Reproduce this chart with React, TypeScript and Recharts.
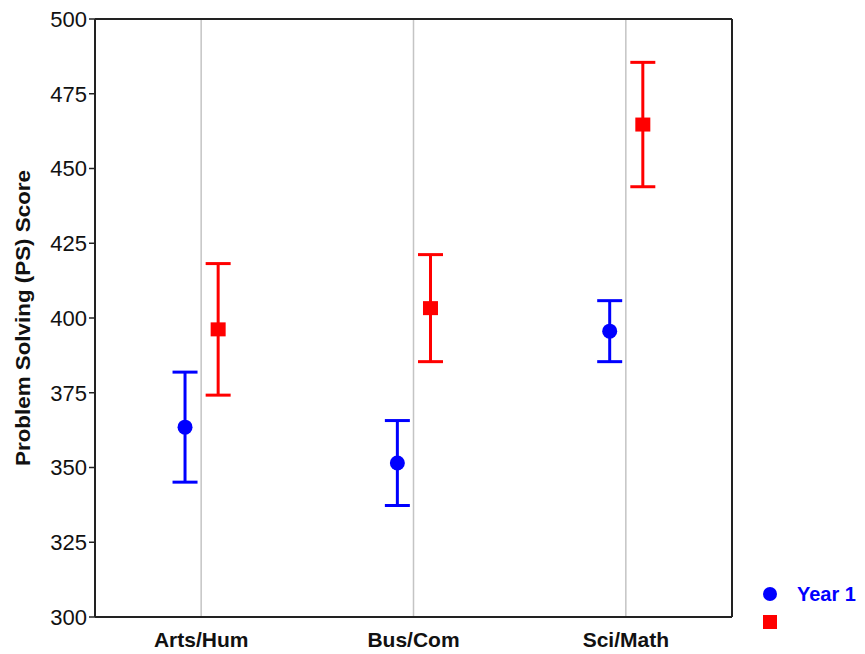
import React from "react"
import { ComposedChart, Scatter, ErrorBar, XAxis, YAxis, CartesianGrid, Legend } from "recharts"

const categories = ["Arts/Hum", "Bus/Com", "Sci/Math"]
const year1Mean = [363.5, 351.5, 395.6]
const year1Err = [18.4, 14.2, 10.2]
const otherMean = [396.2, 403.3, 464.7]
const otherErr = [22, 17.9, 20.8]
const yTicks = [300, 325, 350, 375, 400, 425, 450, 475, 500]
const seriesNames = ["Year 1", ""]

const catTicks = categories.map((_, i) => i + 0.5)
const year1Data = categories.map((c, i) => ({ name: c, x: i + 0.5 - 0.076, y: year1Mean[i], err: year1Err[i] }))
const otherData = categories.map((c, i) => ({ name: c, x: i + 0.5 + 0.08, y: otherMean[i], err: otherErr[i] }))

const font = "'Liberation Sans', Arial, sans-serif"
const axisColor = "#222"
const colors = ["#0000ff", "#ff0000"]

const Dot = (props: any) => <circle cx={props.cx} cy={props.cy} r={7.5} fill={colors[0]} />
const Box = (props: any) => <rect x={props.cx - 7.5} y={props.cy - 7} width={15} height={14} fill={colors[1]} />
const Blank = () => <g />

function YLabel(props: any) {
  const { viewBox } = props
  const cx = viewBox.x + 23
  const cy = viewBox.y + viewBox.height / 2
  return (
    <text x={cx} y={cy} transform={`rotate(-90 ${cx} ${cy})`} textAnchor="middle" dominantBaseline="central"
      fontFamily={font} fontWeight="bold" fontSize={20} fill="#111" textLength={296} lengthAdjust="spacingAndGlyphs">
      Problem Solving (PS) Score
    </text>
  )
}

function LegendBox() {
  return (
    <svg width={120} height={56}>
      <circle cx={15} cy={14} r={7} fill={colors[0]} />
      <text x={42} y={21} fontFamily={font} fontWeight="bold" fontSize={20} fill={colors[0]}>{seriesNames[0]}</text>
      <rect x={8} y={35} width={14} height={14} fill={colors[1]} />
      {seriesNames[1] ? (
        <text x={42} y={49} fontFamily={font} fontWeight="bold" fontSize={20} fill={colors[1]}>{seriesNames[1]}</text>
      ) : null}
    </svg>
  )
}

export default function App() {
  return (
    <div style={{ width: 865, height: 654, background: "#fff" }}>
      <style>{"body{margin:0}"}</style>
      <ComposedChart width={865} height={654} margin={{ top: 19, right: 133, bottom: 0, left: 0 }}>
        <CartesianGrid horizontal={false} stroke="#c4c4c4" strokeWidth={1.5} />
        <XAxis xAxisId={0} type="number" dataKey="x" domain={[0, 3]} ticks={catTicks} height={37}
          tickFormatter={(v: number) => categories[Math.floor(v)]} tickLine={false} tickSize={0} tickMargin={15}
          axisLine={{ stroke: axisColor, strokeWidth: 2 }}
          tick={{ fontFamily: font, fontWeight: "bold", fontSize: 21, fill: "#111" }} />
        <XAxis xAxisId="inner" type="number" domain={[0, 3]} ticks={catTicks} mirror tick={Blank} tickSize={6}
          axisLine={{ stroke: axisColor, strokeWidth: 2 }} tickLine={{ stroke: axisColor, strokeWidth: 1.5 }} />
        <XAxis xAxisId="top" orientation="top" type="number" domain={[0, 3]} mirror tick={false} tickLine={false}
          axisLine={{ stroke: axisColor, strokeWidth: 2 }} />
        <YAxis yAxisId={0} type="number" dataKey="y" domain={[300, 500]} ticks={yTicks} width={95} tickSize={6} tickMargin={2}
          axisLine={{ stroke: axisColor, strokeWidth: 2 }} tickLine={{ stroke: axisColor, strokeWidth: 1.5 }}
          tick={{ fontFamily: font, fontSize: 22, fill: "#111" }} label={<YLabel />} />
        <YAxis yAxisId="right" orientation="right" type="number" domain={[300, 500]} ticks={yTicks} mirror tick={Blank} tickSize={6}
          axisLine={{ stroke: axisColor, strokeWidth: 2 }} tickLine={{ stroke: axisColor, strokeWidth: 1.5 }} />
        <Scatter name={seriesNames[0]} data={year1Data} dataKey="y" fill={colors[0]} shape={Dot} isAnimationActive={false}>
          <ErrorBar dataKey="err" direction="y" width={12.5} strokeWidth={3} stroke={colors[0]} />
        </Scatter>
        <Scatter name={seriesNames[1]} data={otherData} dataKey="y" fill={colors[1]} shape={Box} isAnimationActive={false}>
          <ErrorBar dataKey="err" direction="y" width={12.5} strokeWidth={3} stroke={colors[1]} />
        </Scatter>
        <Legend layout="vertical" align="center" verticalAlign="middle" content={<LegendBox />}
          wrapperStyle={{ left: 755, top: 580, width: 120, height: 56 }} />
      </ComposedChart>
    </div>
  )
}
